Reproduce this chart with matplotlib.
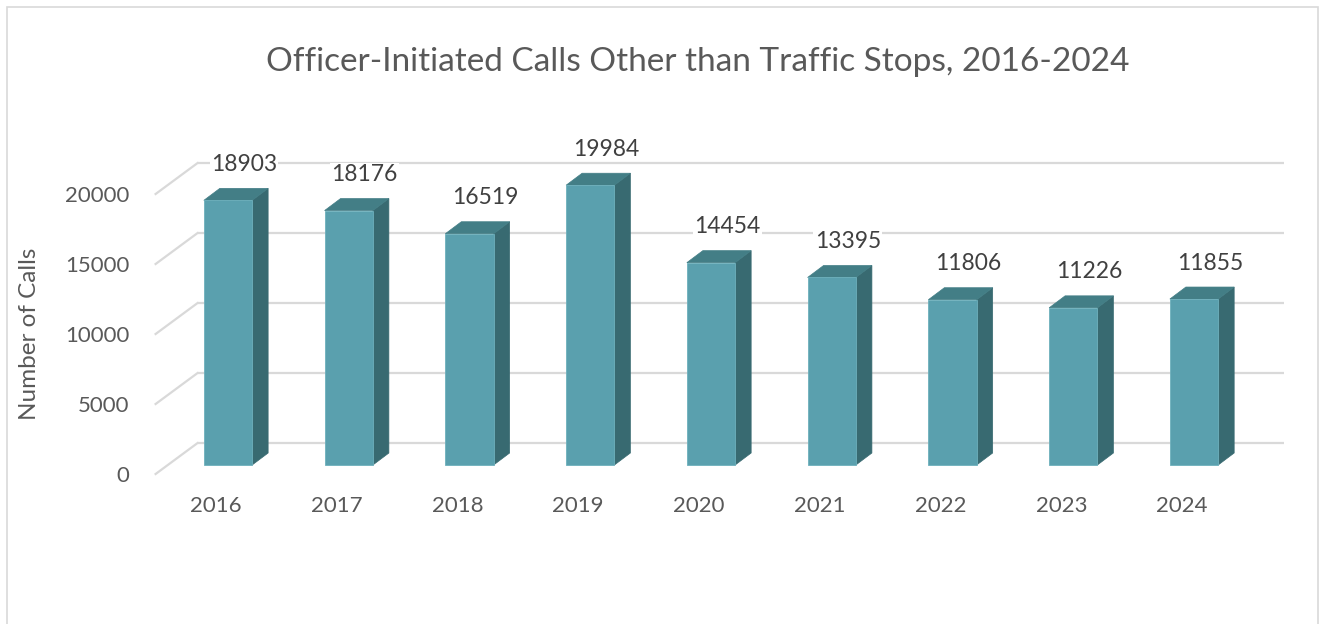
import matplotlib
matplotlib.use("Agg")
import matplotlib.pyplot as plt
from matplotlib.patches import Polygon, Rectangle

plt.rcParams["font.family"] = ["Lato", "DejaVu Sans"]

YEARS = ["2016", "2017", "2018", "2019", "2020", "2021", "2022", "2023", "2024"]
CALLS = [18903, 18176, 16519, 19984, 14454, 13395, 11806, 11226, 11855]
Y_TICKS = [0, 5000, 10000, 15000, 20000]
TITLE = "Officer-Initiated Calls Other than Traffic Stops, 2016-2024"
Y_LABEL = "Number of Calls"

FRONT = "#5AA0AE"
SIDE = "#386A71"
TOP = "#437E86"
GRID = "#D9D9D9"
TEXT = "#595959"
VALUE_TEXT = "#404040"

W, H = 1321, 624
fig = plt.figure(figsize=(W / 100, H / 100), dpi=100)
fig.patches.append(Rectangle((7 / W, -0.1), (1318 - 7) / W, 1.1 - 7 / H, transform=fig.transFigure,
                             facecolor="white", edgecolor=GRID, linewidth=1.2, zorder=-5))

# front edge of the floor, in pixels
left, right, base, top = 155.6, 1242.4, 474, 194
ax = fig.add_axes([left / W, 1 - base / H, (right - left) / W, (base - top) / H])
ax.set_xlim(-0.5, len(YEARS) - 0.5)
ax.set_ylim(0, Y_TICKS[-1])
ax.patch.set_visible(False)
for s in ax.spines.values():
    s.set_visible(False)

ux = len(YEARS) / (right - left)     # category units per pixel
uy = Y_TICKS[-1] / (base - top)      # value units per pixel

# depth offsets (pixels): bar front, bar depth, back wall
fx, fy = 12, 9
dx, dy = 16, 12
wx, wy = 42, 31
half = 0.2

# walls
x0, x1 = -0.5, len(YEARS) - 0.5
for v in Y_TICKS:
    ax.plot([x0 + wx * ux, x1 + wx * ux], [v + wy * uy, v + wy * uy], color=GRID, lw=1.6,
            clip_on=False, zorder=1, solid_capstyle="butt")
    ax.plot([x0, x0 + wx * ux], [v, v + wy * uy], color=GRID, lw=1.6, clip_on=False, zorder=1)

# bars
for i, v in enumerate(CALLS):
    a = i - half + fx * ux
    b = i + half + fx * ux
    y0 = fy * uy
    y1 = y0 + v
    ax.add_patch(Polygon([(b, y0), (b, y1), (b + dx * ux, y1 + dy * uy), (b + dx * ux, y0 + dy * uy)],
                         closed=True, facecolor=SIDE, edgecolor=SIDE, lw=0.5, clip_on=False, zorder=3))
    ax.add_patch(Polygon([(a, y1), (b, y1), (b + dx * ux, y1 + dy * uy), (a + dx * ux, y1 + dy * uy)],
                         closed=True, facecolor=TOP, edgecolor=TOP, lw=0.5, clip_on=False, zorder=3))
    ax.bar(i + fx * ux, v, width=2 * half, bottom=y0, color=FRONT, edgecolor="#6DB0BC",
           linewidth=0.6, clip_on=False, zorder=4)
    ax.text(i + (fx + dx) * ux, v + 45 * uy, str(v), ha="center", va="center", fontsize=16.5,
            color=VALUE_TEXT, zorder=5, clip_on=False,
            bbox=dict(facecolor="white", edgecolor="none", pad=1.0))

ax.set_xticks(range(len(YEARS)))
ax.set_xticklabels(YEARS)
ax.set_yticks(Y_TICKS)
ax.set_yticklabels([str(t) for t in Y_TICKS])
ax.tick_params(axis="x", length=0, pad=16, labelsize=16, labelcolor=TEXT)
ax.tick_params(axis="y", length=0, pad=19, labelsize=16, labelcolor=TEXT)
ax.set_ylabel(Y_LABEL, fontsize=17.5, color=TEXT)
ax.yaxis.set_label_coords(-0.106, 0.5)

fig.text(698 / W, 1 - 62 / H, TITLE, ha="center", va="center", fontsize=24, color=TEXT)

fig.savefig("out.png", dpi=100)
